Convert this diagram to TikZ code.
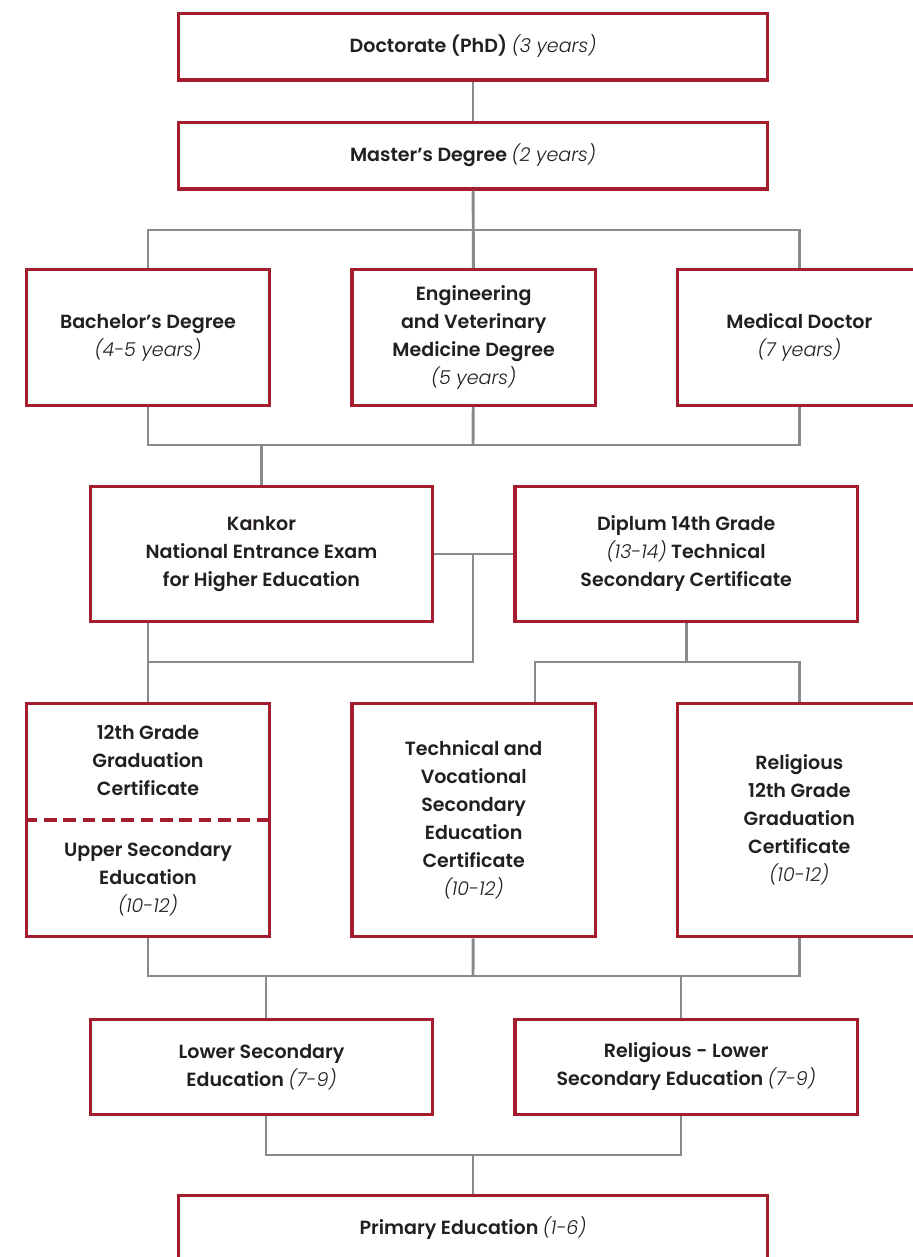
\documentclass[tikz,border=0pt]{standalone}
\usepackage{fontspec}
\setmainfont{Poppins}[UprightFont=* SemiBold,ItalicFont=* Light Italic]
\usetikzlibrary{positioning,calc}
\definecolor{edred}{RGB}{163,29,47}
\definecolor{linkgray}{RGB}{138,138,141}
\definecolor{ink}{RGB}{35,31,32}
\newcommand{\yrs}[1]{\textit{#1}}
\tikzset{edbox/.style={draw=edred,line width=2.5pt,fill=white,align=center,text=ink,font=\fontsize{14.3}{21}\selectfont,inner sep=2pt},
wide/.style={edbox,minimum width=442pt,minimum height=50pt},
trio/.style={edbox,minimum width=182.5pt},
duo/.style={edbox,minimum width=256.75pt},
link/.style={draw=linkgray,line width=2.2pt},
cut/.style={draw=edred,line width=2.5pt,dash pattern=on 9.5pt off 5pt}}

\begin{document}
\begin{tikzpicture}[x=0.75pt,y=-0.75pt,node distance=59.25pt]
\useasboundingbox (0,0) rectangle (913,1257);
% degrees
\node[wide] (doc) at (473,46.5) {Doctorate (PhD) \yrs{(3 years)}};
\node[wide] (mas) at (473,155.5) {Master’s Degree \yrs{(2 years)}};
\node[trio,minimum height=102pt] (bac) at (148,337.5) {Bachelor’s Degree\\\yrs{(4-5 years)}};
\node[trio,minimum height=102pt,right=of bac] (eng) {Engineering\\and Veterinary\\Medicine Degree\\\yrs{(5 years)}};
\node[trio,minimum height=102pt,right=of eng] (med) {Medical Doctor\\\yrs{(7 years)}};
% entry
\node[duo,minimum height=101.5pt] (kan) at (261.5,554) {Kankor\\National Entrance Exam\\for Higher Education};
\node[duo,minimum height=101.5pt,right=of kan] (dip) {Diplum 14th Grade\\\yrs{(13-14)} Technical\\Secondary Certificate};
% upper secondary
\node[trio,minimum height=175pt] (grd) at (148,820) {};
\node[align=center,text=ink,font=\fontsize{14.3}{21}\selectfont] (grdtop) at ($(grd.north)!0.25!(grd.south)$) {12th Grade\\Graduation\\Certificate};
\node[align=center,text=ink,font=\fontsize{14.3}{21}\selectfont] (grdbot) at ($(grd.north)!0.75!(grd.south)$) {Upper Secondary\\Education\\\yrs{(10-12)}};
\draw[cut] (grd.west) -- (grd.east);
\node[trio,minimum height=175pt,right=of grd] (tec) {Technical and\\Vocational\\Secondary\\Education\\Certificate\\\yrs{(10-12)}};
\node[trio,minimum height=175pt,right=of tec] (rel) {Religious\\12th Grade\\Graduation\\Certificate\\\yrs{(10-12)}};
% lower levels
\node[duo,minimum height=71.5pt] (low) at (261.5,1067) {Lower Secondary\\Education \yrs{(7-9)}};
\node[duo,minimum height=71.5pt,right=of low] (rlo) {Religious - Lower\\Secondary Education \yrs{(7-9)}};
\node[wide] (pri) at (473,1228.5) {Primary Education \yrs{(1-6)}};

% junctions
\coordinate (t1) at (473,230);
\coordinate (t2) at (473,445);
\coordinate (t3) at (473,662);
\coordinate (t4) at (535,662);
\coordinate (t5) at (473,976);
\coordinate (t6) at (266,976);
\coordinate (t7) at (681,976);
\coordinate (t8) at (473,1155);

\draw[link] (doc) -- (mas);
\draw[link] (mas) -- (eng);
\draw[link] (bac.north) |- (t1) -| (med.north);
\draw[link] (bac.south) |- (t2) -| (med.south);
\draw[link] (eng) -- (t2);
\draw[link] (kan.north) -- (kan.north |- t2);
\draw[link] (kan) -- (dip);
\draw[link] (kan.east -| t3) -- (t3) -- (t3 -| grd.north);
\draw[link] (grd.north) -- (grd.north |- kan.south);
\draw[link] (dip) -- (dip |- t3);
\draw[link] (tec.north -| t4) -- (t4) -| (rel.north);
\draw[link] (grd.south) |- (t5) -| (rel.south);
\draw[link] (tec) -- (t5);
\draw[link] (t6) -- (t6 |- low.north);
\draw[link] (t7) -- (t7 |- rlo.north);
\draw[link] (low.south -| t6) |- (t8) -| (rlo.south -| t7);
\draw[link] (t8) -- (pri);
\end{tikzpicture}
\end{document}
